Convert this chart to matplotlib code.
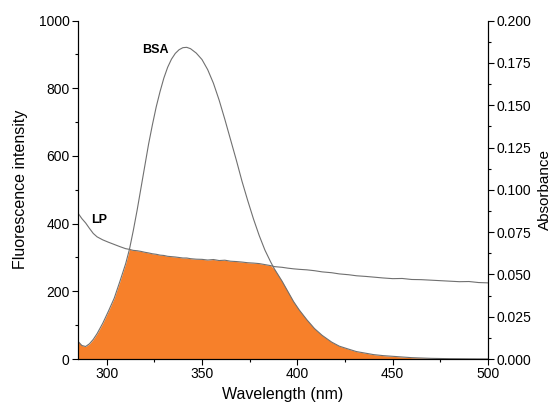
import numpy as np
import matplotlib
matplotlib.use("Agg")
import matplotlib.pyplot as plt
from matplotlib.ticker import MultipleLocator

plt.rcParams['font.family'] = ['Liberation Sans', 'DejaVu Sans']

# wavelength grid (nm)
wavelength = [285, 287, 289, 291, 293, 295, 298, 301, 304, 307, 310, 312, 314, 316,
              318, 320, 322, 324, 326, 328, 330, 332, 334, 336, 338, 340, 342, 344,
              347, 350, 353, 356, 359, 362, 365, 368, 371, 374, 377, 380, 383, 386,
              388, 390, 392, 395, 398, 401, 405, 409, 413, 418, 422, 427, 431, 436,
              440, 445, 450, 455, 460, 465, 470, 475, 480, 485, 490, 495, 500]

# BSA fluorescence intensity
bsa = [52, 40, 37, 45, 58, 75, 106, 142, 180, 230, 282, 325, 380, 440,
       505, 570, 635, 692, 745, 790, 830, 862, 886, 903, 914, 920, 921, 917,
       904, 885, 855, 815, 765, 708, 648, 588, 525, 468, 414, 365, 322, 287,
       266, 248, 230, 200, 170, 145, 116, 90, 70, 50, 38, 29, 22, 17,
       13, 10, 8, 6, 4, 3, 2, 1.5, 1, 0.8, 0.5, 0.3, 0.2]

# LP absorbance
lp = [0.0862, 0.0830, 0.0804, 0.0772, 0.0742, 0.0722, 0.0704, 0.0690, 0.0677, 0.0664,
      0.0652, 0.0648, 0.0642, 0.0640, 0.0636, 0.0631, 0.0627, 0.0622, 0.0619, 0.0614,
      0.0612, 0.0607, 0.0605, 0.0603, 0.0600, 0.0597, 0.0597, 0.0593, 0.0590, 0.0589,
      0.0585, 0.0588, 0.0582, 0.0584, 0.0578, 0.0576, 0.0573, 0.0569, 0.0567, 0.0564,
      0.0558, 0.0552, 0.0546, 0.0544, 0.0542, 0.0537, 0.0533, 0.0530, 0.0527, 0.0522,
      0.0515, 0.0510, 0.0503, 0.0498, 0.0492, 0.0488, 0.0484, 0.0479, 0.0475, 0.0476,
      0.0470, 0.0469, 0.0466, 0.0463, 0.0460, 0.0457, 0.0458, 0.0452, 0.0450]

wl = np.array(wavelength)
bsa = np.array(bsa)
lp = np.array(lp)

fig = plt.figure(figsize=(5.51, 4.12), dpi=100)
ax = fig.add_axes([0.1416, 0.1286, 0.7441, 0.8214])
ax2 = ax.twinx()

ax.set_xlim(285, 500)
ax.set_ylim(0, 1000)
ax2.set_ylim(0, 0.2)
scale = 1000 / 0.2

# overlap region (under both curves)
overlap = np.minimum(bsa, lp * scale)
ax.fill_between(wl, 0, overlap, color='#F7802A', linewidth=0, zorder=1)
ax.plot(wl, bsa, color='#707070', lw=0.8, zorder=2)
ax2.plot(wl, lp, color='#707070', lw=0.8, zorder=2)

ax.text(318.4, 913, 'BSA', fontsize=9, fontweight='bold', va='center')
ax.text(291.7, 411, 'LP', fontsize=9, fontweight='bold', va='center')

for a in (ax, ax2):
    a.spines['top'].set_visible(False)
ax.xaxis.set_major_locator(MultipleLocator(50))
ax.xaxis.set_minor_locator(MultipleLocator(25))
ax.yaxis.set_major_locator(MultipleLocator(200))
ax.yaxis.set_minor_locator(MultipleLocator(100))
ax2.yaxis.set_major_locator(MultipleLocator(0.025))
ax2.yaxis.set_minor_locator(MultipleLocator(0.0125))
ax2.yaxis.set_major_formatter(plt.FormatStrFormatter('%.3f'))

for a in (ax, ax2):
    a.tick_params(which='major', direction='out', length=4, width=0.8, labelsize=10, pad=2)
    a.tick_params(which='minor', direction='out', length=2.5, width=0.8)

ax.set_xlabel('Wavelength (nm)', fontsize=11.5, labelpad=4)
ax.set_ylabel('Fluorescence intensity', fontsize=11.5, labelpad=8)
ax2.set_ylabel('Absorbance', fontsize=11, labelpad=5)

fig.savefig('out.png', dpi=100)
